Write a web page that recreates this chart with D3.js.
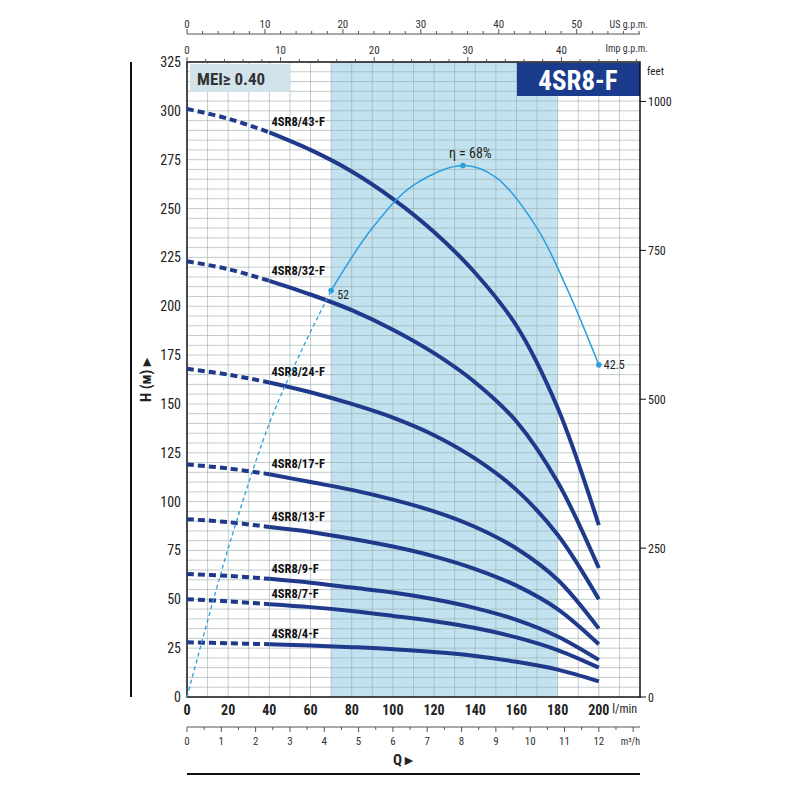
<!DOCTYPE html><html><head><meta charset="utf-8"><script src="https://cdn.jsdelivr.net/npm/d3@7"></script>
<style>body{margin:0;background:#fff}text{font-family:"Liberation Sans Narrow","Roboto Condensed","Liberation Sans",sans-serif}</style></head><body>
<svg id="c" width="800" height="800"></svg>
<script>
const qPoints=[0,20,40,60,80,100,120,140,160,180,200];
const models=["4SR8/43-F","4SR8/32-F","4SR8/24-F","4SR8/17-F","4SR8/13-F","4SR8/9-F","4SR8/7-F","4SR8/4-F"];
const heads=[
[301,296,289,280,269,255,238,217,190,148,88],
[223,219,213,206,198,188,176,161,141,110,66],
[168,165,161,156,150,143,134,122,106,83,50],
[119,117,114,110,106,101,95,87,76,60,35],
[91,89.5,87,84.5,81,77,72,65.5,57,45,27],
[63,62,60.5,58.5,56,53.5,50,45.5,39.5,31,19],
[50,49,47.5,46,44,41.5,38.8,35.3,30.5,24,15],
[28,27.5,27,26.3,25.5,24.5,23,21,18,14,8]];
const etaQ=[0,20,40,55,70,90,110,134,150,170,185,200];
const etaV=[0,19,35,44,52,60,65.5,68,66.5,60,52,42.5];
const lminTicks=[0,20,40,60,80,100,120,140,160,180,200];
const hTicks=[0,25,50,75,100,125,150,175,200,225,250,275,300,325];
const feetTicks=[0,250,500,750,1000];
const m3hTicks=[0,1,2,3,4,5,6,7,8,9,10,11,12];
const usTicks=[0,10,20,30,40,50];
const impTicks=[0,10,20,30,40];

const svg=d3.select("#c");
const x=d3.scaleLinear().domain([0,220]).range([187,640]);
const y=d3.scaleLinear().domain([0,325]).range([697,62]);
const navy="#1f3a8a", blue="#2b9ee0";
svg.append("rect").attr("x",x(70)).attr("y",y(325)).attr("width",x(180)-x(70)).attr("height",y(0)-y(325)).attr("fill","#c3e2f0");
const g=svg.append("g").attr("stroke","#9aa").attr("stroke-width",0.6);
d3.range(10,220,10).forEach(v=>g.append("line").attr("x1",x(v)).attr("x2",x(v)).attr("y1",y(0)).attr("y2",y(325)));
d3.range(5,325,5).forEach(v=>g.append("line").attr("x1",x(0)).attr("x2",x(220)).attr("y1",y(v)).attr("y2",y(v)));
svg.append("rect").attr("x",190).attr("y",64).attr("width",100).attr("height",28).attr("fill","#d3e3ec");
svg.append("text").attr("x",197).attr("y",85).attr("font-size",17).attr("font-weight","bold").attr("fill","#333").attr("font-family","Liberation Sans").text("MEI≥ 0.40");
svg.append("rect").attr("x",517).attr("y",63).attr("width",123).attr("height",33).attr("fill","#1b3c8c");
svg.append("text").attr("x",578).attr("y",90).attr("text-anchor","middle").attr("font-size",27).attr("font-weight","bold").attr("fill","#fff").attr("font-family","Liberation Sans").text("4SR8-F");
svg.append("rect").attr("x",x(0)).attr("y",y(325)).attr("width",x(220)-x(0)).attr("height",y(0)-y(325)).attr("fill","none").attr("stroke","#111").attr("stroke-width",1.5);
const line=d3.line().x(d=>x(d[0])).y(d=>y(d[1])).curve(d3.curveCatmullRom);
heads.forEach((h,i)=>{
 const pts=qPoints.map((q,j)=>[q,h[j]]);
 svg.append("path").attr("d",line(pts.slice(0,3))).attr("fill","none").attr("stroke",navy).attr("stroke-width",4).attr("stroke-dasharray","7,4");
 svg.append("path").attr("d",line(pts.slice(2))).attr("fill","none").attr("stroke",navy).attr("stroke-width",4);
 svg.append("text").attr("x",x(41)).attr("y",y(h[2])-6).attr("font-size",12.5).attr("font-weight","bold").attr("fill","#111").text(models[i]);
});
const ep=etaQ.map((q,i)=>[q,etaV[i]*4]);
const ei=etaQ.indexOf(70);
svg.append("path").attr("d",line(ep.slice(0,ei+1))).attr("fill","none").attr("stroke",blue).attr("stroke-width",1.3).attr("stroke-dasharray","4,3");
svg.append("path").attr("d",line(ep.slice(ei))).attr("fill","none").attr("stroke",blue).attr("stroke-width",1.5);
[[70,52,"52",6,8,12],[134,68,"η = 68%",-14,-8,14],[200,42.5,"42.5",5,4,12]].forEach(([q,e,t,dx,dy,fs])=>{
 svg.append("circle").attr("cx",x(q)).attr("cy",y(e*4)).attr("r",2.8).attr("fill",blue);
 svg.append("text").attr("x",x(q)+dx).attr("y",y(e*4)+dy).attr("font-size",fs).attr("fill","#222").text(t);
});
hTicks.forEach(v=>{svg.append("text").attr("x",181).attr("y",y(v)+5).attr("text-anchor","end").attr("font-size",14).attr("fill","#222").text(v);});
svg.append("line").attr("x1",131).attr("x2",131).attr("y1",62).attr("y2",697).attr("stroke","#111").attr("stroke-width",2);
svg.append("text").attr("transform","translate(151,380) rotate(-90)").attr("text-anchor","middle").attr("font-size",15).attr("font-weight","bold").attr("fill","#222").text("H (м) ▸");
feetTicks.forEach(v=>{const yy=y(v*0.3048);
 svg.append("line").attr("x1",640).attr("x2",646).attr("y1",yy).attr("y2",yy).attr("stroke","#111");
 svg.append("text").attr("x",648).attr("y",yy+5).attr("font-size",12).attr("fill","#222").text(v);});
svg.append("text").attr("x",647).attr("y",75).attr("font-size",11).attr("fill","#222").text("feet");
lminTicks.forEach(v=>svg.append("text").attr("x",x(v)).attr("y",715).attr("text-anchor","middle").attr("font-size",14).attr("font-weight","bold").attr("fill","#222").text(v));
svg.append("text").attr("x",637).attr("y",713).attr("text-anchor","end").attr("font-size",12).attr("fill","#222").text("l/min");
const ym=727;
svg.append("line").attr("x1",x(0)).attr("x2",x(220)).attr("y1",ym).attr("y2",ym).attr("stroke","#555");
const xm=v=>x(v*1000/60);
d3.range(0,13.1,0.5).forEach(v=>{if(xm(v)<=640)svg.append("line").attr("x1",xm(v)).attr("x2",xm(v)).attr("y1",ym).attr("y2",ym+(v%1?3:5)).attr("stroke","#555");});
m3hTicks.forEach(v=>svg.append("text").attr("x",xm(v)).attr("y",745).attr("text-anchor","middle").attr("font-size",11).attr("fill","#333").text(v));
svg.append("text").attr("x",640).attr("y",745).attr("text-anchor","end").attr("font-size",10).attr("fill","#333").text("m³/h");
svg.append("text").attr("x",x(105)).attr("y",765).attr("text-anchor","middle").attr("font-size",15).attr("font-weight","bold").attr("fill","#222").text("Q ▸");
svg.append("line").attr("x1",187).attr("x2",640).attr("y1",774).attr("y2",774).attr("stroke","#111").attr("stroke-width",2);
const xu=v=>x(v*3.78541), xi=v=>x(v*4.54609);
svg.append("line").attr("x1",x(0)).attr("x2",x(220)).attr("y1",34).attr("y2",34).attr("stroke","#555");
d3.range(0,58.5,2).forEach(v=>{if(xu(v)<=640)svg.append("line").attr("x1",xu(v)).attr("x2",xu(v)).attr("y1",34).attr("y2",v%10?31:29).attr("stroke","#555");});
usTicks.forEach(v=>svg.append("text").attr("x",xu(v)).attr("y",28).attr("text-anchor","middle").attr("font-size",11).attr("fill","#333").text(v));
svg.append("text").attr("x",648).attr("y",28).attr("text-anchor","end").attr("font-size",10).attr("fill","#333").text("US g.p.m.");
d3.range(0,48.5,2).forEach(v=>{if(xi(v)<=640)svg.append("line").attr("x1",xi(v)).attr("x2",xi(v)).attr("y1",62).attr("y2",v%10?59:57).attr("stroke","#555");});
impTicks.forEach(v=>svg.append("text").attr("x",xi(v)).attr("y",54).attr("text-anchor","middle").attr("font-size",11).attr("fill","#333").text(v));
svg.append("text").attr("x",648).attr("y",52).attr("text-anchor","end").attr("font-size",10).attr("fill","#333").text("Imp g.p.m.");
</script></body></html>
